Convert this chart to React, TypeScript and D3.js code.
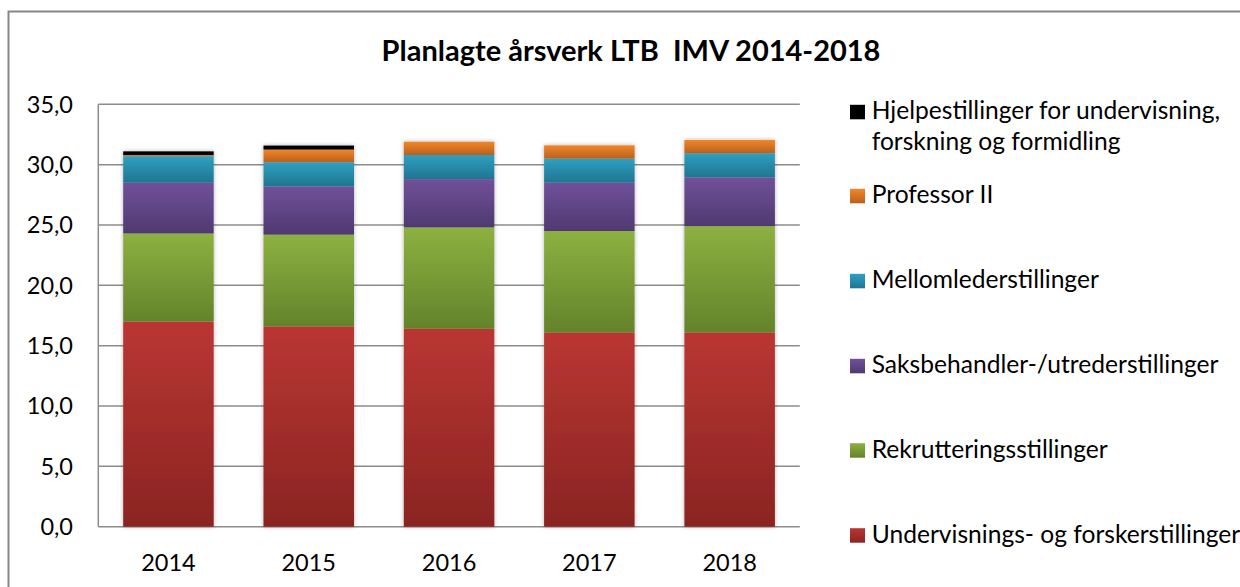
import React from "react";
import * as d3 from "d3";

const years = ["2014", "2015", "2016", "2017", "2018"];
const undervisning = [17.0, 16.6, 16.4, 16.1, 16.1];
const rekruttering = [7.3, 7.6, 8.4, 8.4, 8.8];
const saksbehandler = [4.2, 4.0, 4.0, 4.0, 4.05];
const mellomleder = [2.2, 2.0, 2.0, 2.0, 2.0];
const professorII = [0.1, 1.05, 1.1, 1.1, 1.1];
const hjelpestillinger = [0.3, 0.33, 0, 0, 0];
const yTicks = [0, 5, 10, 15, 20, 25, 30, 35];

const seriesNames = [
  "Undervisnings- og forskerstillinger",
  "Rekrutteringsstillinger",
  "Saksbehandler-/utrederstillinger",
  "Mellomlederstillinger",
  "Professor II",
  "Hjelpestillinger for undervisning, forskning og formidling",
];
const seriesValues = [undervisning, rekruttering, saksbehandler, mellomleder, professorII, hjelpestillinger];
const seriesColors: [string, string][] = [
  ["#BA3633", "#8A2422"],
  ["#8CB140", "#64832B"],
  ["#70519A", "#4F3970"],
  ["#2FA0C2", "#1F7590"],
  ["#F2862A", "#B8611E"],
  ["#000000", "#000000"],
];

const W = 1240;
const H = 587;
const plotLeft = 98.3;
const plotRight = 799.8;
const plotTop = 104.3;
const plotBottom = 526.7;
const FONT = "Lato, 'Open Sans', sans-serif";
const LFS = 24.6;

export default function App() {
  const rows = years.map((y, i) => {
    const r: any = { year: y };
    seriesNames.forEach((n, k) => (r[n] = seriesValues[k][i]));
    return r;
  });
  const stacked = d3.stack<any>().keys(seriesNames)(rows);

  const x = d3.scaleBand<string>().domain(years).range([plotLeft, plotRight]).paddingInner(0.355).paddingOuter(0.1775);
  const y = d3.scaleLinear().domain([0, 35]).range([plotBottom, plotTop]);

  const fmt = (v: number) => v.toFixed(1).replace(".", ",");

  const legendOrder = [5, 4, 3, 2, 1, 0];
  const legendBaselines = [119.3, 203.3, 288.3, 373.3, 457.7, 542.7];

  return (
    <svg width={W} height={H} style={{ position: "absolute", left: 0, top: 0, background: "#fff" }} fontFamily={FONT}>
      <defs>
        {seriesColors.map((c, k) => (
          <linearGradient key={k} id={`g${k}`} x1="0" y1="0" x2="0" y2="1">
            <stop offset="0%" stopColor={c[0]} />
            <stop offset="100%" stopColor={c[1]} />
          </linearGradient>
        ))}
        <filter id="shadow" x="-20%" y="-5%" width="140%" height="110%">
          <feDropShadow dx="0" dy="0" stdDeviation="2.2" floodColor="#000" floodOpacity="0.3" />
        </filter>
      </defs>
      <rect x={0} y={0} width={W} height={H} fill="#fff" />
      <rect x={8.5} y={11.5} width={1250} height={600} fill="none" stroke="#878787" strokeWidth={2} />

      <text x={631} y={61} textAnchor="middle" fontSize={29} fontWeight={700} fill="#000" xmlSpace="preserve" style={{ whiteSpace: "pre" }}>
        {"Planlagte årsverk LTB  IMV 2014-2018"}
      </text>

      {yTicks.map((t) => (
        <line key={t} x1={plotLeft} x2={plotRight} y1={y(t)} y2={y(t)} stroke="#8c8c8c" strokeWidth={1.5} />
      ))}
      <line x1={plotLeft} x2={plotLeft} y1={plotTop} y2={plotBottom} stroke="#8c8c8c" strokeWidth={1.5} />

      {yTicks.map((t) => (
        <text key={t} x={73} y={y(t)} dy="0.36em" textAnchor="end" fontSize={23.5} fill="#000">
          {fmt(t)}
        </text>
      ))}

      {years.map((yr, i) => (
        <g key={yr} filter="url(#shadow)">
          {stacked.map((s, k) => {
            const d = s[i];
            const h = y(d[0]) - y(d[1]);
            if (h <= 0) return null;
            return <rect key={k} x={x(yr)} y={y(d[1])} width={x.bandwidth()} height={h} fill={`url(#g${k})`} />;
          })}
        </g>
      ))}

      {years.map((yr) => (
        <text key={yr} x={(x(yr) as number) + x.bandwidth() / 2} y={570.7} textAnchor="middle" fontSize={23.5} fill="#000">
          {yr}
        </text>
      ))}

      {legendOrder.map((k, j) => {
        const base = legendBaselines[j];
        const isTwoLine = k === 5;
        return (
          <g key={k}>
            <rect x={850} y={base - 14.5} width={15} height={14.5} fill={`url(#g${k})`} />
            {isTwoLine ? (
              <text x={871.7} y={base} fontSize={LFS} fill="#000">
                <tspan x={871.7}>Hjelpestillinger for undervisning,</tspan>
                <tspan x={871.7} dy={30.7}>forskning og formidling</tspan>
              </text>
            ) : (
              <text x={871.7} y={base} fontSize={LFS} fill="#000">
                {seriesNames[k]}
              </text>
            )}
          </g>
        );
      })}
    </svg>
  );
}
